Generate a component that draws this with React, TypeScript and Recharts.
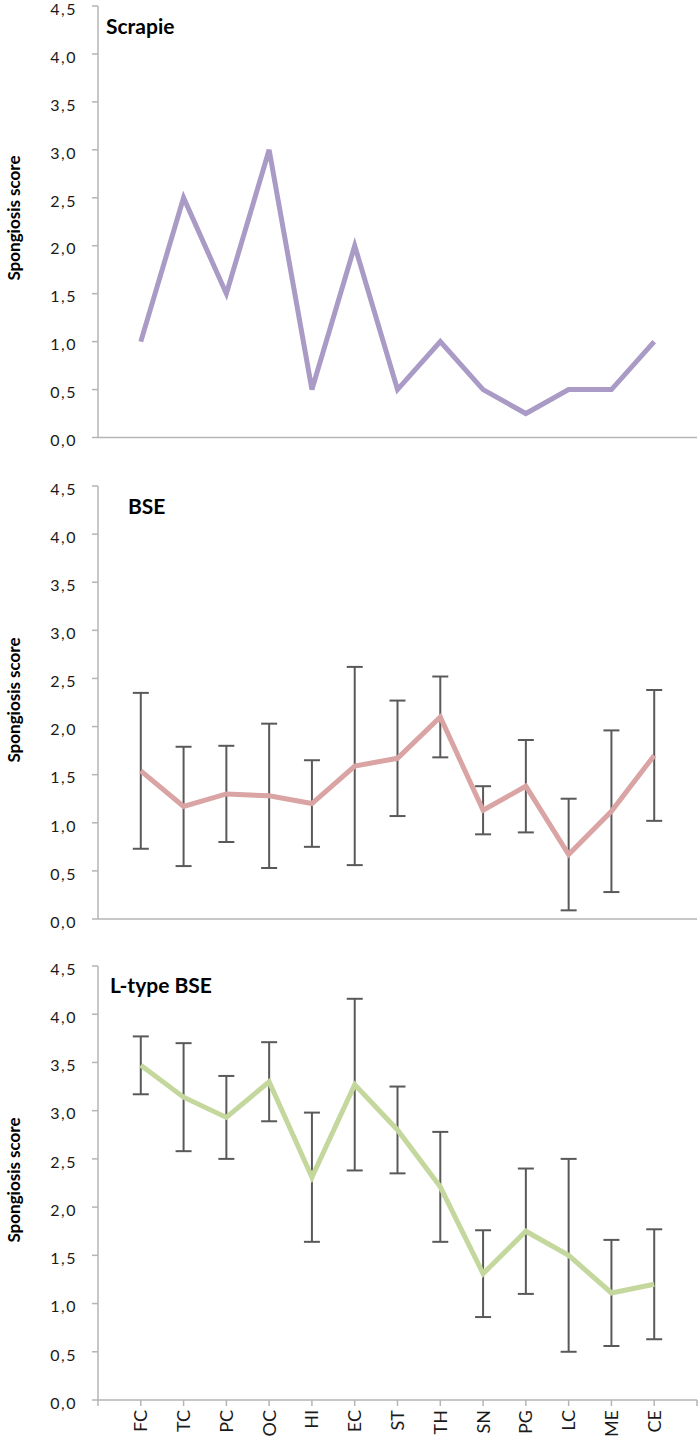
import React from "react";
import { LineChart, Line, XAxis, YAxis, ErrorBar } from "recharts";

// brain regions, same order in all three panels
const categories = ["FC", "TC", "PC", "OC", "HI", "EC", "ST", "TH", "SN", "PG", "LC", "ME", "CE"];

const scrapieScore = [1.0, 2.5, 1.5, 3.0, 0.5, 2.0, 0.5, 1.0, 0.5, 0.25, 0.5, 0.5, 1.0];

const bseScore = [1.54, 1.17, 1.3, 1.28, 1.2, 1.59, 1.67, 2.1, 1.13, 1.38, 0.67, 1.12, 1.7];
const bseSd = [0.81, 0.62, 0.5, 0.75, 0.45, 1.03, 0.6, 0.42, 0.25, 0.48, 0.58, 0.84, 0.68];

const ltypeScore = [3.47, 3.14, 2.93, 3.3, 2.31, 3.27, 2.8, 2.21, 1.31, 1.75, 1.5, 1.11, 1.2];
const ltypeSd = [0.3, 0.56, 0.43, 0.41, 0.67, 0.89, 0.45, 0.57, 0.45, 0.65, 1.0, 0.55, 0.57];

const yTicks = [0, 0.5, 1, 1.5, 2, 2.5, 3, 3.5, 4, 4.5];

const FONT = "Lato, 'Open Sans', sans-serif";
const AXIS = "#b5b5b5";
const TEXT = "#1a1a1a";

const xTicks = [0, ...categories.map((_, i) => i + 1), categories.length + 1];

function rows(values: number[], sd?: number[]) {
  return categories.map((name, i) => ({
    x: i + 1,
    name,
    value: values[i],
    sd: sd ? sd[i] : 0,
  }));
}

const fmtY = (v: number) => v.toFixed(1).replace(".", ",");

const RotTick = (props: { x?: number; y?: number; payload?: { value: number } }) => {
  const { x = 0, y = 0, payload } = props;
  const label = payload ? categories[payload.value - 1] ?? "" : "";
  if (!label) return null;
  return (
    <text
      x={x}
      y={y}
      transform={`rotate(-90 ${x} ${y})`}
      textAnchor="end"
      dy="0.36em"
      fontSize={18}
      fontFamily={FONT}
      fill={TEXT}
    >
      {label}
    </text>
  );
};

const YTick = (props: { x?: number; y?: number; payload?: { value: number } }) => {
  const { x = 0, y = 0, payload } = props;
  if (!payload) return null;
  return (
    <text
      x={x}
      y={y + 3}
      textAnchor="end"
      dy="0.36em"
      fontSize={16}
      letterSpacing={1.5}
      fontFamily={FONT}
      fill={TEXT}
    >
      {fmtY(payload.value)}
    </text>
  );
};

interface PanelProps {
  top: number;
  values: number[];
  sd?: number[];
  color: string;
  plotTop: number;
  plotHeight: number;
  showLabels?: boolean;
}

function Panel({ top, values, sd, color, plotTop, plotHeight, showLabels }: PanelProps) {
  const h = 480;
  const xh = showLabels ? 40 : 10;
  return (
    <div style={{ position: "absolute", left: 0, top }}>
      <LineChart
        width={700}
        height={h}
        data={rows(values, sd)}
        margin={{ top: plotTop, right: 3, left: 0, bottom: h - plotTop - plotHeight - xh }}
      >
        <XAxis
          type="number"
          dataKey="x"
          domain={[0, categories.length + 1]}
          ticks={xTicks}
          interval={0}
          height={xh}
          stroke={AXIS}
          strokeWidth={1.5}
          tickSize={6}
          tickMargin={4}
          tick={showLabels ? <RotTick /> : false}
        />
        <YAxis
          type="number"
          domain={[0, 4.5]}
          ticks={yTicks}
          interval={0}
          width={98}
          stroke={AXIS}
          strokeWidth={1.5}
          tickSize={6}
          tickMargin={15}
          tick={<YTick />}
        />
        <Line
          type="linear"
          dataKey="value"
          stroke={color}
          strokeWidth={5}
          dot={false}
          isAnimationActive={false}
        >
          {sd && (
            <ErrorBar
              dataKey="sd"
              direction="y"
              width={8}
              stroke="#595959"
              strokeWidth={2}
              isAnimationActive={false}
            />
          )}
        </Line>
      </LineChart>
    </div>
  );
}

const titles = [
  { text: "Scrapie", x: 106, y: 34 },
  { text: "BSE", x: 128, y: 514 },
  { text: "L-type BSE", x: 110, y: 993 },
];

const yLabelCenters = [218, 700, 1180];

export default function App() {
  return (
    <div style={{ position: "absolute", left: 0, top: 0, width: 700, height: 1440, background: "#fff" }}>
      <Panel top={0} values={scrapieScore} color="#a99bc6" plotTop={6} plotHeight={431.5} />
      <Panel top={480} values={bseScore} sd={bseSd} color="#d9a4a3" plotTop={6} plotHeight={433} />
      <Panel top={960} values={ltypeScore} sd={ltypeSd} color="#c4d79c" plotTop={6} plotHeight={434} showLabels />
      <svg
        width={700}
        height={1440}
        style={{ position: "absolute", left: 0, top: 0, pointerEvents: "none" }}
      >
        {titles.map((t) => (
          <text key={t.text} x={t.x} y={t.y} fontSize={21} fontWeight="bold" fontFamily={FONT} fill="#000">
            {t.text}
          </text>
        ))}
        {yLabelCenters.map((cy, i) => (
          <text
            key={i}
            x={13}
            y={cy}
            transform={`rotate(-90 13 ${cy})`}
            textAnchor="middle"
            dominantBaseline="central"
            fontSize={17}
            fontWeight="bold"
            fontFamily={FONT}
            fill="#000"
          >
            Spongiosis score
          </text>
        ))}
      </svg>
    </div>
  );
}
